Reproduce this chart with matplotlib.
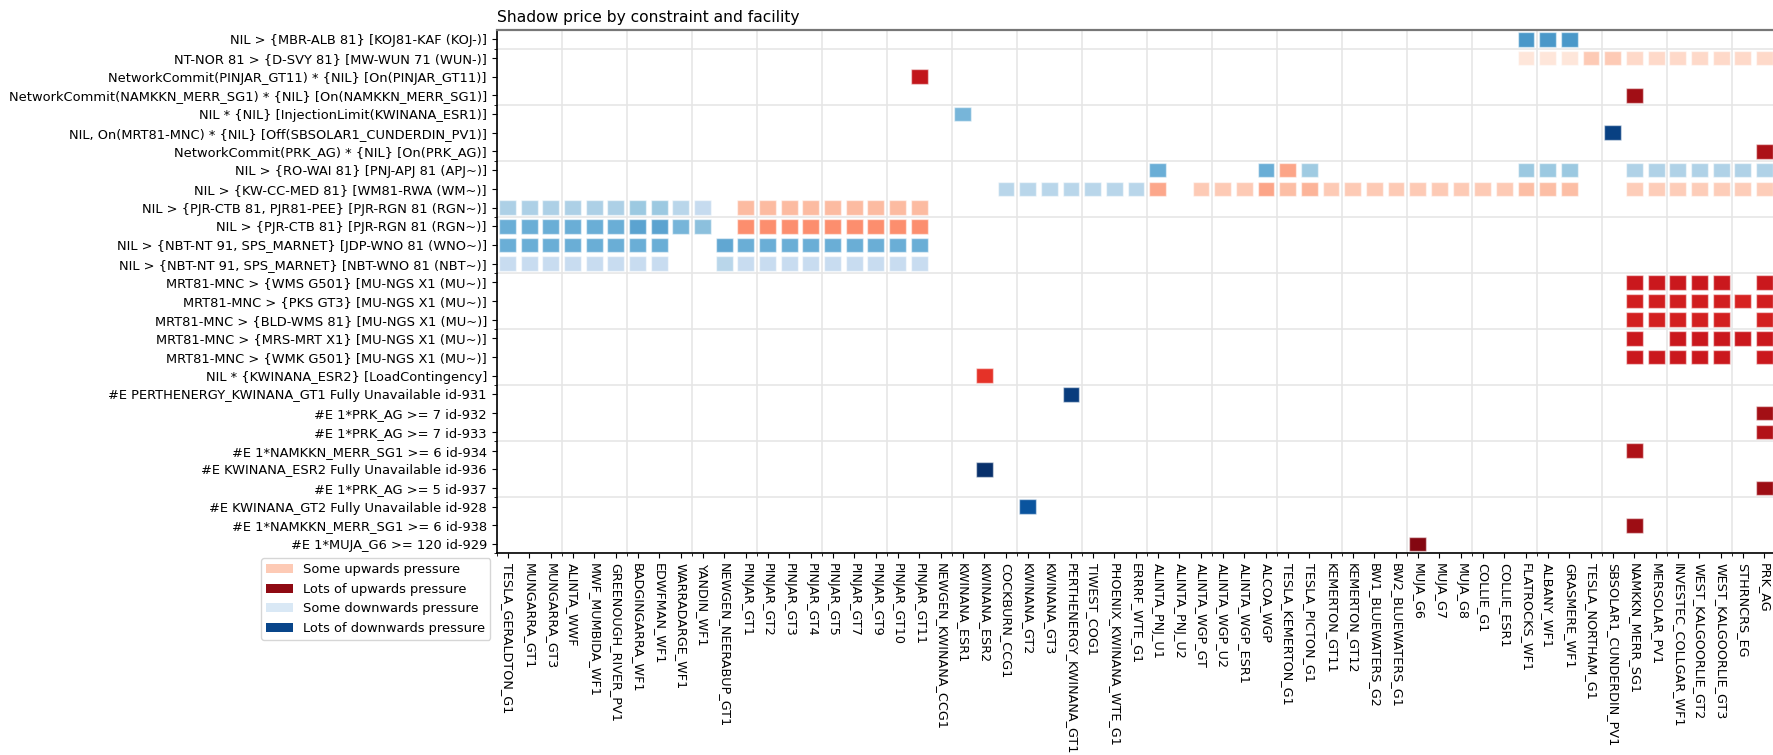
import matplotlib
matplotlib.use("Agg")
import matplotlib.pyplot as plt
from matplotlib.patches import Patch
from matplotlib.ticker import MultipleLocator
import pandas as pd

# facilities along the x axis, left to right
facilities = [
    "TESLA_GERALDTON_G1", "MUNGARRA_GT1", "MUNGARRA_GT3", "ALINTA_WWF", "MWF_MUMBIDA_WF1",
    "GREENOUGH_RIVER_PV1", "BADGINGARRA_WF1", "EDWFMAN_WF1", "WARRADARGE_WF1", "YANDIN_WF1",
    "NEWGEN_NEERABUP_GT1", "PINJAR_GT1", "PINJAR_GT2", "PINJAR_GT3", "PINJAR_GT4",
    "PINJAR_GT5", "PINJAR_GT7", "PINJAR_GT9", "PINJAR_GT10", "PINJAR_GT11",
    "NEWGEN_KWINANA_CCG1", "KWINANA_ESR1", "KWINANA_ESR2", "COCKBURN_CCG1", "KWINANA_GT2",
    "KWINANA_GT3", "PERTHENERGY_KWINANA_GT1", "TIWEST_COG1", "PHOENIX_KWINANA_WTE_G1", "ERRRF_WTE_G1",
    "ALINTA_PNJ_U1", "ALINTA_PNJ_U2", "ALINTA_WGP_GT", "ALINTA_WGP_U2", "ALINTA_WGP_ESR1",
    "ALCOA_WGP", "TESLA_KEMERTON_G1", "TESLA_PICTON_G1", "KEMERTON_GT11", "KEMERTON_GT12",
    "BW1_BLUEWATERS_G2", "BW2_BLUEWATERS_G1", "MUJA_G6", "MUJA_G7", "MUJA_G8",
    "COLLIE_G1", "COLLIE_ESR1", "FLATROCKS_WF1", "ALBANY_WF1", "GRASMERE_WF1",
    "TESLA_NORTHAM_G1", "SBSOLAR1_CUNDERDIN_PV1", "NAMKKN_MERR_SG1", "MERSOLAR_PV1",
    "INVESTEC_COLLGAR_WF1", "WEST_KALGOORLIE_GT2", "WEST_KALGOORLIE_GT3", "STHRNCRS_EG", "PRK_AG",
]

# constraints down the y axis, top to bottom
constraints = [
    "NIL > {MBR-ALB 81} [KOJ81-KAF (KOJ-)]",
    "NT-NOR 81 > {D-SVY 81} [MW-WUN 71 (WUN-)]",
    "NetworkCommit(PINJAR_GT11) * {NIL} [On(PINJAR_GT11)]",
    "NetworkCommit(NAMKKN_MERR_SG1) * {NIL} [On(NAMKKN_MERR_SG1)]",
    "NIL * {NIL} [InjectionLimit(KWINANA_ESR1)]",
    "NIL, On(MRT81-MNC) * {NIL} [Off(SBSOLAR1_CUNDERDIN_PV1)]",
    "NetworkCommit(PRK_AG) * {NIL} [On(PRK_AG)]",
    "NIL > {RO-WAI 81} [PNJ-APJ 81 (APJ~)]",
    "NIL > {KW-CC-MED 81} [WM81-RWA (WM~)]",
    "NIL > {PJR-CTB 81, PJR81-PEE} [PJR-RGN 81 (RGN~)]",
    "NIL > {PJR-CTB 81} [PJR-RGN 81 (RGN~)]",
    "NIL > {NBT-NT 91, SPS_MARNET} [JDP-WNO 81 (WNO~)]",
    "NIL > {NBT-NT 91, SPS_MARNET} [NBT-WNO 81 (NBT~)]",
    "MRT81-MNC > {WMS G501} [MU-NGS X1 (MU~)]",
    "MRT81-MNC > {PKS GT3} [MU-NGS X1 (MU~)]",
    "MRT81-MNC > {BLD-WMS 81} [MU-NGS X1 (MU~)]",
    "MRT81-MNC > {MRS-MRT X1} [MU-NGS X1 (MU~)]",
    "MRT81-MNC > {WMK G501} [MU-NGS X1 (MU~)]",
    "NIL * {KWINANA_ESR2} [LoadContingency]",
    "#E PERTHENERGY_KWINANA_GT1 Fully Unavailable id-931",
    "#E 1*PRK_AG >= 7 id-932",
    "#E 1*PRK_AG >= 7 id-933",
    "#E 1*NAMKKN_MERR_SG1 >= 6 id-934",
    "#E KWINANA_ESR2 Fully Unavailable id-936",
    "#E 1*PRK_AG >= 5 id-937",
    "#E KWINANA_GT2 Fully Unavailable id-928",
    "#E 1*NAMKKN_MERR_SG1 >= 6 id-938",
    "#E 1*MUJA_G6 >= 120 id-929",
]


def span(first, last, v):
    i, j = facilities.index(first), facilities.index(last)
    return {f: v for f in facilities[i:j + 1]}


# scaled shadow price (+ = upwards pressure, - = downwards), one dict per constraint
pressure = [
    span("FLATROCKS_WF1", "GRASMERE_WF1", -0.6),
    {**span("FLATROCKS_WF1", "GRASMERE_WF1", 0.09),
     **span("TESLA_NORTHAM_G1", "SBSOLAR1_CUNDERDIN_PV1", 0.2),
     **span("NAMKKN_MERR_SG1", "PRK_AG", 0.15)},
    {"PINJAR_GT11": 0.78},
    {"NAMKKN_MERR_SG1": 0.88},
    {"KWINANA_ESR1": -0.47},
    {"SBSOLAR1_CUNDERDIN_PV1": -0.94},
    {"PRK_AG": 0.85},
    {"ALINTA_PNJ_U1": -0.5, "ALCOA_WGP": -0.5, "TESLA_KEMERTON_G1": 0.32, "TESLA_PICTON_G1": -0.37,
     **span("FLATROCKS_WF1", "GRASMERE_WF1", -0.38),
     **span("NAMKKN_MERR_SG1", "PRK_AG", -0.32)},
    {**span("COCKBURN_CCG1", "ERRRF_WTE_G1", -0.29),
     "ALINTA_PNJ_U1": 0.31,
     **span("ALINTA_WGP_GT", "ALINTA_WGP_ESR1", 0.2),
     "ALCOA_WGP": 0.32, "TESLA_KEMERTON_G1": 0.24, "TESLA_PICTON_G1": 0.27,
     **span("KEMERTON_GT11", "COLLIE_ESR1", 0.2),
     **span("FLATROCKS_WF1", "GRASMERE_WF1", 0.24),
     **span("NAMKKN_MERR_SG1", "PRK_AG", 0.19)},
    {**span("TESLA_GERALDTON_G1", "GREENOUGH_RIVER_PV1", -0.33),
     "BADGINGARRA_WF1": -0.38, "EDWFMAN_WF1": -0.38, "WARRADARGE_WF1": -0.29, "YANDIN_WF1": -0.25,
     **span("PINJAR_GT1", "PINJAR_GT11", 0.25)},
    {**span("TESLA_GERALDTON_G1", "GREENOUGH_RIVER_PV1", -0.5),
     "BADGINGARRA_WF1": -0.55, "EDWFMAN_WF1": -0.55, "WARRADARGE_WF1": -0.47, "YANDIN_WF1": -0.42,
     **span("PINJAR_GT1", "PINJAR_GT11", 0.39)},
    {**span("TESLA_GERALDTON_G1", "EDWFMAN_WF1", -0.5),
     "NEWGEN_NEERABUP_GT1": -0.53,
     **span("PINJAR_GT1", "PINJAR_GT11", -0.5)},
    {**span("TESLA_GERALDTON_G1", "EDWFMAN_WF1", -0.24),
     "NEWGEN_NEERABUP_GT1": -0.29,
     **span("PINJAR_GT1", "PINJAR_GT11", -0.24)},
    {**span("NAMKKN_MERR_SG1", "WEST_KALGOORLIE_GT3", 0.75), "PRK_AG": 0.75},
    {**span("NAMKKN_MERR_SG1", "PRK_AG", 0.73), "STHRNCRS_EG": 0.71},
    {**span("NAMKKN_MERR_SG1", "WEST_KALGOORLIE_GT3", 0.72), "PRK_AG": 0.72},
    {"NAMKKN_MERR_SG1": 0.75, **span("INVESTEC_COLLGAR_WF1", "PRK_AG", 0.75)},
    {**span("NAMKKN_MERR_SG1", "WEST_KALGOORLIE_GT3", 0.75), "PRK_AG": 0.75},
    {"KWINANA_ESR2": 0.66},
    {"PERTHENERGY_KWINANA_GT1": -0.95},
    {"PRK_AG": 0.875},
    {"PRK_AG": 0.83},
    {"NAMKKN_MERR_SG1": 0.84},
    {"KWINANA_ESR2": -1.0},
    {"PRK_AG": 0.89},
    {"KWINANA_GT2": -0.86},
    {"NAMKKN_MERR_SG1": 0.89},
    {"MUJA_G6": 0.94},
]

legend_labels = ["Some upwards pressure", "Lots of upwards pressure",
                 "Some downwards pressure", "Lots of downwards pressure"]
legend_levels = [0.2, 0.92, -0.15, -0.92]


def shade(v):
    return plt.cm.Reds(v) if v > 0 else plt.cm.Blues(-v)


# long table
df = pd.DataFrame([(c, f, v) for c, row in zip(constraints, pressure) for f, v in row.items()],
                  columns=["constraint", "facility", "value"])
df["x"] = df["facility"].map(facilities.index) + 0.5
df["y"] = len(constraints) - 1 - df["constraint"].map(constraints.index) + 0.5

fig = plt.figure(figsize=(17.74, 7.55), dpi=100)
ax = fig.add_axes([0.2800, 0.2671, 0.7207, 0.6932])

size = 0.78
ax.bar(df["x"], size, width=size, bottom=df["y"] - size / 2,
       color=[shade(v) for v in df["value"]],
       edgecolor=(1, 1, 1, 0.5), linewidth=1, zorder=3)

ax.set_xlim(0, len(facilities))
ax.set_ylim(0, len(constraints))

ax.set_xticks([i + 0.5 for i in range(len(facilities))])
ax.set_xticklabels(facilities, rotation=270, fontsize=9.2)
ax.set_yticks([len(constraints) - 1 - i + 0.5 for i in range(len(constraints))])
ax.set_yticklabels(constraints, fontsize=9.4)

ax.xaxis.set_minor_locator(MultipleLocator(3))
ax.yaxis.set_minor_locator(MultipleLocator(3))
ax.grid(which="minor", color="#e6e6e6", linewidth=1.2, zorder=0)
ax.set_axisbelow(True)

ax.spines["top"].set_color("#777777")
ax.spines["top"].set_linewidth(1.6)
ax.spines["left"].set_linewidth(1.2)
ax.spines["bottom"].set_linewidth(1.2)

ax.set_title("Shadow price by constraint and facility", loc="left", fontsize=11.2)

handles = [Patch(facecolor=shade(v), label=l) for l, v in zip(legend_labels, legend_levels)]
ax.legend(handles=handles, loc="upper right", bbox_to_anchor=(-0.005, -0.009),
          borderaxespad=0, fontsize=9.4)

fig.savefig("out.png", dpi=100)
